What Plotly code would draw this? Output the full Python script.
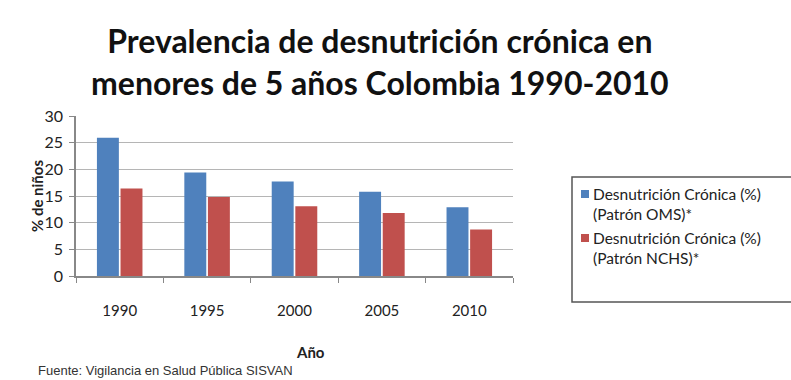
import plotly.graph_objects as go

years = ["1990", "1995", "2000", "2005", "2010"]
oms = [25.9, 19.4, 17.7, 15.8, 12.9]
nchs = [16.4, 14.8, 13.1, 11.8, 8.7]
series_names = ["Desnutrición Crónica (%)<br>(Patrón OMS)*", "Desnutrición Crónica (%)<br>(Patrón NCHS)*"]
colors = ["#4F81BD", "#C0504D"]
y_ticks = [0, 5, 10, 15, 20, 25, 30]

fig = go.Figure()
for vals, name, col in zip([oms, nchs], series_names, colors):
    fig.add_trace(go.Bar(x=years, y=vals, name=name, marker=dict(color=col, line=dict(width=0))))

# plot area in px: x 76..513, y 116..276
L, R, T, B = 76, 513, 116, 276
W, H = R - L, B - T

def px(xp):
    return (xp - L) / W

def py(yp):
    return (B - yp) / H

shapes = [dict(type="rect", xref="paper", yref="paper", x0=px(572), x1=px(792), y0=py(302), y1=py(177),
               line=dict(color="#555", width=1.5), fillcolor="white", layer="above")]
annotations = []
legend_y = [204, 248]
for name, col, yy in zip(series_names, colors, legend_y):
    shapes.append(dict(type="rect", xref="paper", yref="paper", x0=px(581), x1=px(589),
                       y0=py(yy - 6), y1=py(yy - 14), line=dict(width=0), fillcolor=col, layer="above"))
    annotations.append(dict(text=name, xref="paper", yref="paper", x=px(591), y=py(yy),
                            xanchor="left", yanchor="middle", align="left", showarrow=False,
                            font=dict(family="Lato", size=15.5, color="#222")))

annotations += [
    dict(text="<b>Prevalencia de desnutrición crónica en<br>menores de 5 años Colombia 1990-2010</b>",
         xref="paper", yref="paper", x=px(380), y=py(61), xanchor="center", yanchor="middle",
         showarrow=False, font=dict(family="Lato", size=32, color="#111")),
    dict(text="<b>% de niños</b>", xref="paper", yref="paper", x=px(37), y=0.5,
         xanchor="center", yanchor="middle", textangle=-90, showarrow=False,
         font=dict(family="Lato", size=15, color="#222")),
    dict(text="<b>Año</b>", xref="paper", yref="paper", x=px(310), y=py(352),
         xanchor="center", yanchor="middle", showarrow=False,
         font=dict(family="Lato", size=15, color="#222")),
    dict(text="Fuente: Vigilancia en Salud Pública SISVAN", xref="paper", yref="paper",
         x=px(36), y=py(370), xanchor="left", yanchor="middle", showarrow=False,
         font=dict(family="Liberation Sans", size=13, color="#333")),
]

fig.update_layout(
    width=791, height=380,
    margin=dict(l=L, r=791 - R, t=T, b=380 - B),
    paper_bgcolor="white", plot_bgcolor="white",
    barmode="group", bargap=0.46, bargroupgap=0.07,
    font=dict(family="Lato", color="#222"),
    showlegend=False,
    xaxis=dict(type="category", tickson="boundaries", ticks="outside", ticklen=5,
               tickcolor="#888", showline=True, linecolor="#888", linewidth=1.5,
               tickfont=dict(family="Lato", size=15, color="#222"), ticklabelstandoff=20),
    yaxis=dict(range=[0, 30], tickvals=y_ticks, ticks="outside", ticklen=5, tickcolor="#888",
               showline=True, linecolor="#888", linewidth=1.5,
               showgrid=True, gridcolor="#b5b5b5", gridwidth=1.2, ticklabelstandoff=3,
               tickfont=dict(family="Lato", size=16, color="#222")),
    shapes=shapes,
    annotations=annotations,
)

fig.write_html("out.html")
